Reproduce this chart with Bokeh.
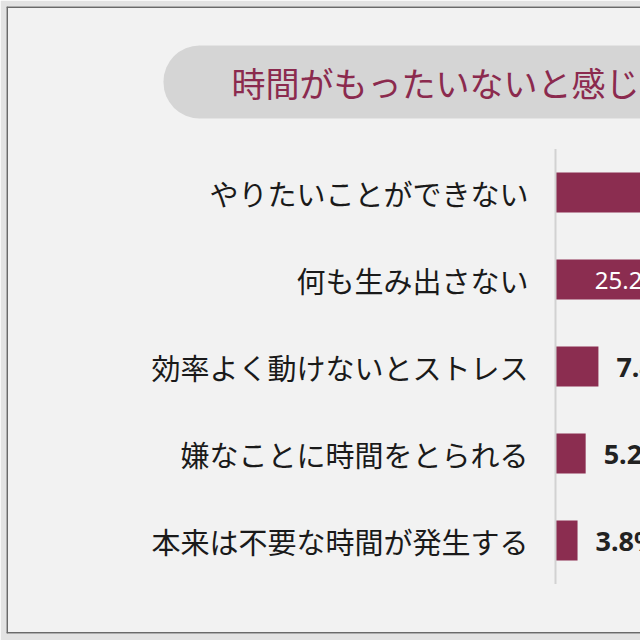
import numpy as np
from bokeh.plotting import figure
from bokeh.models import Range1d, ColumnDataSource, Span
from bokeh.core.properties import value
from bokeh.embed import file_html
from bokeh.resources import INLINE

# data (first bar runs off the crop, its value is estimated)
categories = ['やりたいことができない', '何も生み出さない', '効率よく動けないとストレス',
              '嫌なことに時間をとられる', '本来は不要な時間が発生する']
shares = [58.4, 25.2, 7.4, 5.2, 3.8]
title_text = '時間がもったいないと感じ'

BAR = '#8b2d50'
JP = 'Noto Sans CJK JP'

# layout in canvas px: frame spans x 6..640 and y 6..633
px_per_pct = 5.8     # horizontal scale
zero_px = 555        # x of the 0 % line
row_px = 87          # vertical distance between bars
first_px = 192       # y of the first bar centre
x_lo = (6 - zero_px) / px_per_pct
x_hi = (640 - zero_px) / px_per_pct
y_top = -(first_px - 6) / row_px
y_bot = (633 - first_px) / row_px

p = figure(width=640, height=640, output_backend="svg", toolbar_location=None,
           x_range=Range1d(x_lo, x_hi), y_range=Range1d(y_bot, y_top),
           x_axis_location=None, y_axis_location=None,
           min_border_left=6, min_border_top=6, min_border_bottom=7, min_border_right=0,
           border_fill_color='#e3e3e3', background_fill_color='#f2f2f2',
           outline_line_color=None)
p.grid.visible = False

# dark frame on the left, top and bottom
for loc, dim in [(x_lo, 'height'), (y_top, 'width'), (y_bot, 'width')]:
    p.add_layout(Span(location=loc, dimension=dim, line_color='#6a6a6a', line_width=3))

# title pill (its right end runs off the crop)
p.quad(left=[(163 - zero_px) / px_per_pct], right=[x_hi + 20],
       top=[(45 - first_px) / row_px], bottom=[(118 - first_px) / row_px],
       fill_color='#d5d5d5', line_color=None, border_radius=36)
p.text(x=[(231 - zero_px) / px_per_pct], y=[(82 - first_px) / row_px], text=[title_text],
       text_font=value(JP), text_font_size='34px', text_color='#8b2a4e',
       text_align='left', text_baseline='middle')

idx = np.arange(len(categories))
src = ColumnDataSource(dict(y=idx, v=shares, cat=categories))

p.hbar(y='y', left=0, right='v', height=40 / row_px, source=src,
       fill_color=BAR, line_color=None)

# thin baseline
p.segment(x0=0, y0=-0.5, x1=0, y1=len(categories) - 0.5, line_color='#d2d2d2', line_width=2)

# category labels
p.text(x=0, y='y', text='cat', source=src, x_offset=-27,
       text_font=value(JP), text_font_size='29px', text_color='#1a1a1a',
       text_align='right', text_baseline='middle')

# value labels: inside (white, centred) for long bars, outside for short ones
inside = [i for i, s in enumerate(shares) if s >= 20]
outside = [i for i, s in enumerate(shares) if s < 20]
p.text(x=[shares[i] / 2 for i in inside], y=[int(i) for i in inside],
       text=['%.1f%%' % shares[i] for i in inside],
       text_font=value('Noto Sans'), text_font_size='24px', text_color='white',
       text_align='center', text_baseline='middle')
p.text(x=[shares[i] for i in outside], y=[int(i) for i in outside],
       text=['%.1f%%' % shares[i] for i in outside], x_offset=18,
       text_font=value('Noto Sans'), text_font_size='27px', text_font_style='bold',
       text_color='#222222', text_align='left', text_baseline='middle')

open("out.html", "w").write(file_html(p, INLINE))
